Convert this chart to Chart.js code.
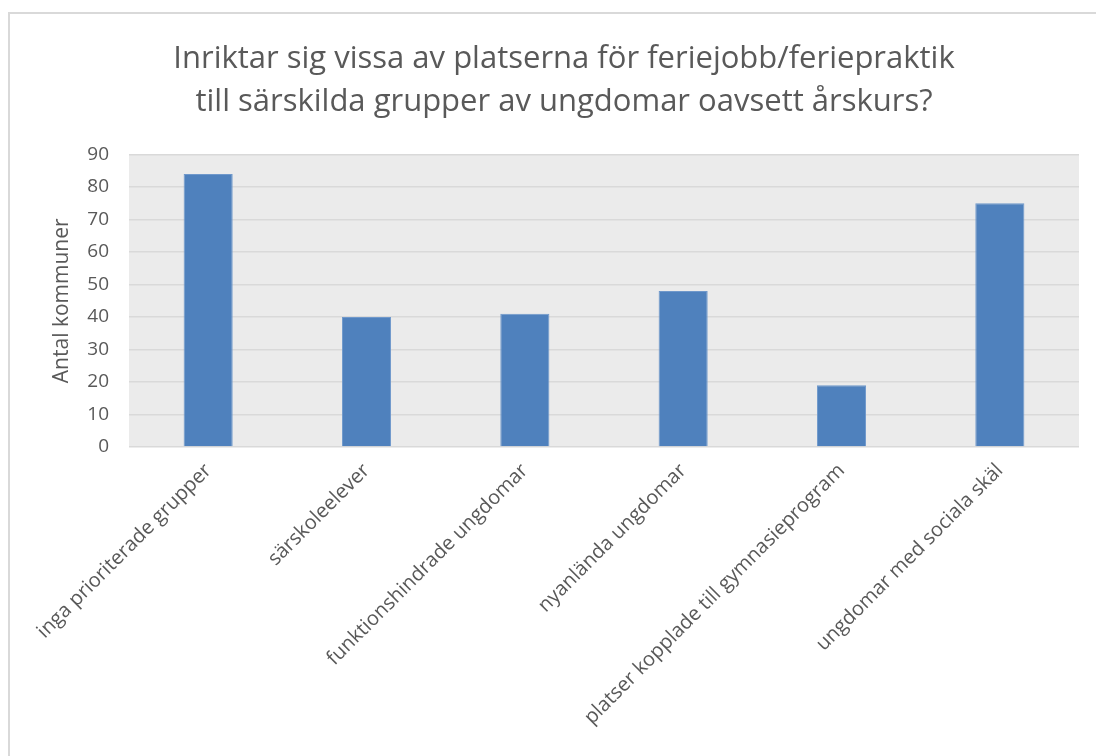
<!DOCTYPE html>
<html>
<head>
<meta charset="utf-8">
<script src="https://cdn.jsdelivr.net/npm/chart.js@4"></script>
<style>
    html, body { margin: 0; padding: 0; background: #ffffff; overflow: hidden; }
    #wrap { position: relative; width: 1096px; height: 756px; }
    #ram {
        position: absolute; left: 8px; top: 12px; width: 1200px; height: 900px;
        border-left: 2px solid #d9d9d9; border-top: 2px solid #d9d9d9;
        pointer-events: none;
    }
</style>
</head>
<body>
<div id="wrap">
    <canvas id="chartGrupper" width="1096" height="756"></canvas>
    <div id="ram"></div>
</div>
<script>
// Kategorier och värden (antal kommuner)
const kategorier = [
    'inga prioriterade grupper',
    'särskoleelever',
    'funktionshindrade ungdomar',
    'nyanlända ungdomar',
    'platser kopplade till gymnasieprogram',
    'ungdomar med sociala skäl'
];
const antalKommuner = [84, 40, 41, 48, 19, 75];
const yTicks = [0, 10, 20, 30, 40, 50, 60, 70, 80, 90];

const titelRader = [
    'Inriktar sig vissa av platserna för feriejobb/feriepraktik',
    'till särskilda grupper av ungdomar oavsett årskurs?'
];

const textFarg = '#595959';

// Grå bakgrund i ritytan
const plotBakgrund = {
    id: 'plotBakgrund',
    beforeDraw(chart) {
        const { ctx, chartArea } = chart;
        ctx.save();
        ctx.fillStyle = '#ffffff';
        ctx.fillRect(0, 0, chart.width, chart.height);
        ctx.fillStyle = '#ebebeb';
        ctx.fillRect(chartArea.left, chartArea.top, chartArea.right - chartArea.left, chartArea.bottom - chartArea.top);
        ctx.restore();
    }
};

const ctx = document.getElementById('chartGrupper');

new Chart(ctx, {
    type: 'bar',
    data: {
        labels: kategorier,
        datasets: [{
            label: 'Antal kommuner',
            data: antalKommuner,
            backgroundColor: '#4f81bd',
            borderColor: '#6f98cb',
            borderWidth: 1,
            barPercentage: 0.31,
            categoryPercentage: 1
        }]
    },
    options: {
        responsive: false,
        animation: false,
        layout: {
            padding: { left: 49, right: 17, top: 0, bottom: 0 }
        },
        plugins: {
            legend: { display: false },
            tooltip: { enabled: false },
            title: {
                display: true,
                text: titelRader,
                color: textFarg,
                font: { family: "'Open Sans', sans-serif", size: 31, weight: 'normal', lineHeight: 1.38 },
                padding: { top: 38, bottom: 31 }
            }
        },
        scales: {
            x: {
                grid: { display: false, drawTicks: false },
                border: { display: false },
                ticks: {
                    color: textFarg,
                    font: { family: "'Open Sans', sans-serif", size: 20 },
                    minRotation: 45,
                    maxRotation: 45,
                    autoSkip: false,
                    padding: 12
                },
                afterFit(scale) {
                    scale.height = 309;
                }
            },
            y: {
                min: 0,
                max: 90,
                afterBuildTicks(scale) {
                    scale.ticks = yTicks.map(v => ({ value: v }));
                },
                grid: { color: '#d9d9d9', lineWidth: 1.5, drawTicks: false },
                border: { display: false },
                ticks: {
                    color: textFarg,
                    font: { family: "'Open Sans', sans-serif", size: 19 },
                    padding: 20
                },
                title: {
                    display: true,
                    text: 'Antal kommuner',
                    color: textFarg,
                    font: { family: "'Open Sans', sans-serif", size: 21 },
                    padding: 0
                },
                afterFit(scale) {
                    scale.width = 80;
                }
            }
        }
    },
    plugins: [plotBakgrund]
});
</script>
</body>
</html>
